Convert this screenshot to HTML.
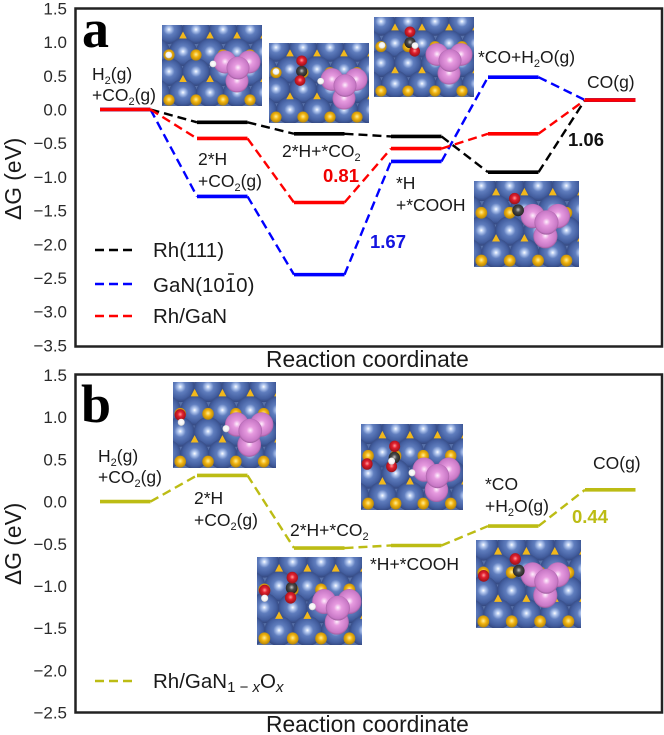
<!DOCTYPE html>
<html lang="en">
<head>
<meta charset="utf-8">
<title>Free energy diagrams</title>
<style>
html,body{margin:0;padding:0;background:#fff;width:664px;height:735px;overflow:hidden}
svg{display:block}
text{font-family:"Liberation Sans",sans-serif;fill:#1a1a1a}
.lb{font-size:17.5px}
.tk{font-size:17px;text-anchor:end;fill:#2a2a2a}
.ax{font-size:22.8px}
.lg{font-size:20.5px}
.val{font-size:18.5px;font-weight:bold}
.pl{font-family:"Liberation Serif",serif;font-weight:bold;font-size:54px;fill:#000}
</style>
</head>
<body>
<svg id="chart" xmlns="http://www.w3.org/2000/svg" width="664" height="735" viewBox="0 0 664 735">
<defs>
<radialGradient id="gBlue" cx="50%" cy="48%" r="52%"><stop offset="0" stop-color="#ffffff"/><stop offset=".13" stop-color="#b9cdf2"/><stop offset=".38" stop-color="#5f7dbe"/><stop offset=".78" stop-color="#435e9f"/><stop offset="1" stop-color="#33477e"/></radialGradient>
<radialGradient id="gGold" cx="50%" cy="45%" r="55%"><stop offset="0" stop-color="#fff09a"/><stop offset=".45" stop-color="#f2b412"/><stop offset="1" stop-color="#b08208"/></radialGradient>
<radialGradient id="gPink" cx="50%" cy="48%" r="52%"><stop offset="0" stop-color="#fff2fd"/><stop offset=".3" stop-color="#e79be0"/><stop offset=".85" stop-color="#c878c6"/><stop offset="1" stop-color="#9c5c9c"/></radialGradient>
<radialGradient id="gRed" cx="50%" cy="45%" r="55%"><stop offset="0" stop-color="#ffa0a0"/><stop offset=".4" stop-color="#e2202e"/><stop offset="1" stop-color="#981018"/></radialGradient>
<radialGradient id="gC" cx="50%" cy="45%" r="55%"><stop offset="0" stop-color="#c8c8c8"/><stop offset=".4" stop-color="#4a4a4a"/><stop offset="1" stop-color="#222"/></radialGradient>
<radialGradient id="gH" cx="50%" cy="45%" r="55%"><stop offset="0" stop-color="#fff"/><stop offset=".7" stop-color="#f2f2f2"/><stop offset="1" stop-color="#bbb"/></radialGradient>
<filter id="soft" x="-5%" y="-5%" width="110%" height="110%"><feGaussianBlur stdDeviation="0.35"/></filter>
</defs>

<g id="insets"></g>
<g id="marks"></g>

<rect x="75.5" y="8.5" width="586.5" height="338" fill="none" stroke="#222" stroke-width="2.5"/>
<rect x="75.5" y="374.5" width="586.5" height="338" fill="none" stroke="#222" stroke-width="2.5"/>
<g id="ticks"></g>

<text class="pl" x="82" y="47">a</text>
<text class="pl" x="81" y="422">b</text>

<text class="ax" transform="translate(21,220) rotate(-90)">ΔG (eV)</text>
<text class="ax" transform="translate(21,585) rotate(-90)">ΔG (eV)</text>
<text class="ax" x="266" y="367">Reaction coordinate</text>
<text class="ax" x="266" y="732">Reaction coordinate</text>

<g>
<text class="lb" x="92" y="80">H<tspan font-size="11" dy="4">2</tspan><tspan dy="-4">(g)</tspan></text>
<text class="lb" x="92" y="101">+CO<tspan font-size="11" dy="4">2</tspan><tspan dy="-4">(g)</tspan></text>
<text class="lb" x="198" y="165">2*H</text>
<text class="lb" x="198" y="187">+CO<tspan font-size="11" dy="4">2</tspan><tspan dy="-4">(g)</tspan></text>
<text class="lb" x="282" y="157">2*H+*CO<tspan font-size="11" dy="4">2</tspan></text>
<text class="lb" x="396" y="189">*H</text>
<text class="lb" x="396" y="211">+*COOH</text>
<text class="lb" x="478" y="63">*CO+H<tspan font-size="11" dy="4">2</tspan><tspan dy="-4">O(g)</tspan></text>
<text class="lb" x="587" y="88">CO(g)</text>
</g>
<text class="val" x="323" y="182" style="fill:#f00000">0.81</text>
<text class="val" x="370" y="248" style="fill:#1414e0">1.67</text>
<text class="val" x="568" y="146" style="fill:#111">1.06</text>

<g>
<text class="lb" x="98" y="462">H<tspan font-size="11" dy="4">2</tspan><tspan dy="-4">(g)</tspan></text>
<text class="lb" x="98" y="483">+CO<tspan font-size="11" dy="4">2</tspan><tspan dy="-4">(g)</tspan></text>
<text class="lb" x="194" y="504">2*H</text>
<text class="lb" x="194" y="526">+CO<tspan font-size="11" dy="4">2</tspan><tspan dy="-4">(g)</tspan></text>
<text class="lb" x="290" y="536">2*H+*CO<tspan font-size="11" dy="4">2</tspan></text>
<text class="lb" x="370" y="570">*H+*COOH</text>
<text class="lb" x="485" y="490">*CO</text>
<text class="lb" x="485" y="512">+H<tspan font-size="11" dy="4">2</tspan><tspan dy="-4">O(g)</tspan></text>
<text class="lb" x="593" y="469">CO(g)</text>
</g>
<text class="val" x="572" y="523" style="fill:#bcbc14">0.44</text>

<g>
<line x1="95" y1="250" x2="137" y2="250" stroke="#000" stroke-width="2.4" stroke-dasharray="9 5"/>
<text class="lg" x="153" y="257">Rh(111)</text>
<line x1="95" y1="284" x2="137" y2="284" stroke="#0000ff" stroke-width="2.4" stroke-dasharray="9 5"/>
<text class="lg" x="153" y="292">GaN(1010)</text>
<line x1="228" y1="274" x2="234" y2="274" stroke="#1a1a1a" stroke-width="1.4"/>
<line x1="95" y1="316" x2="137" y2="316" stroke="#ff0000" stroke-width="2.4" stroke-dasharray="9 5"/>
<text class="lg" x="153" y="323">Rh/GaN</text>
</g>
<g>
<line x1="95" y1="681" x2="137" y2="681" stroke="#bcbc14" stroke-width="2.4" stroke-dasharray="9 5"/>
<text class="lg" x="153" y="688">Rh/GaN<tspan font-size="15" dy="4">1 − <tspan font-style="italic">x</tspan></tspan><tspan dy="-4">O</tspan><tspan font-size="15" dy="4" font-style="italic">x</tspan></text>
</g>
</svg>

<script>
// ---- chart data ----
var ticksA = ['1.5','1.0','0.5','0.0','−0.5','−1.0','−1.5','−2.0','−2.5','−3.0','−3.5'];
var tickValuesA = [1.5,1,0.5,0,-0.5,-1,-1.5,-2,-2.5,-3,-3.5];
var ticksB = ['1.5','1.0','0.5','0.0','−0.5','−1.0','−1.5','−2.0','−2.5'];
var tickValuesB = [1.5,1,0.5,0,-0.5,-1,-1.5,-2,-2.5];
var reactionSteps = [0,1,2,3,4,5];
var rh111 = [0,-0.19,-0.36,-0.40,-0.93,0.14];
var gan = [0,-1.29,-2.45,-0.77,0.48,0.14];
var rhGan = [0,-0.43,-1.38,-0.58,-0.36,0.14];
var rhGanOx = [0,0.31,-0.55,-0.52,-0.29,0.14];

var NS = 'http://www.w3.org/2000/svg';
function make(tag, attrs, parent){
  var n = document.createElementNS(NS, tag);
  for (var k in attrs) n.setAttribute(k, attrs[k]);
  parent.appendChild(n);
  return n;
}
// axis functions
function xStart(step){ return 100 + step * 97; }
function xEnd(step){ return xStart(step) + 50.5; }
function yA(v){ return 109.5 - v * 67.4; }
function yB(v){ return 501.6 - v * 84.4; }

var marks = document.getElementById('marks');
function drawSeries(values, yFn, color, name){
  var g = make('g', {}, marks);
  
  
  for (var i = 0; i < values.length; i++){
    if (i > 0){
      var c = make('line', {x1:xEnd(reactionSteps[i-1]), y1:yFn(values[i-1]), x2:xStart(reactionSteps[i]), y2:yFn(values[i]), stroke:color, 'stroke-width':2.4, 'stroke-dasharray':'9 5'}, g);
      
      
    }
  }
  for (var j = 0; j < values.length; j++){
    var l = make('line', {x1:xStart(reactionSteps[j]), y1:yFn(values[j]), x2:xEnd(reactionSteps[j]), y2:yFn(values[j]), stroke:color, 'stroke-width':3.6}, g);
    
    
  }
}
drawSeries(rh111, yA, '#000000', 'series-rh111');
drawSeries(gan, yA, '#0000ff', 'series-gan');
drawSeries(rhGan, yA, '#ff0000', 'series-rh-gan');
drawSeries(rhGanOx, yB, '#bcbc14', 'series-rh-ganox');

var tg = document.getElementById('ticks');
function drawTicks(labels, values, yFn){
  for (var i = 0; i < labels.length; i++){
    var t = make('text', {x:67, y:yFn(values[i]) + 6, 'class':'tk'}, tg);
    
    
    t.textContent = labels[i];
  }
}
drawTicks(ticksA, tickValuesA, yA);
drawTicks(ticksB, tickValuesB, yB);

// ---- atomic structure insets (illustrations, not data) ----
var insetRoot = document.getElementById('insets');
var blueAtoms = [[7,5],[34,5],[61,5],[88,5],[-6,27],[21,27],[48,27],[75,27],[102,27],[7,47],[34,47],[61,47],[88,47],[-6,68],[21,68],[48,68],[75,68],[102,68]];
var goldWedges = [[21,6.5],[48,6.5],[75,6.5],[102,6.5],[21,50],[48,50],[75,50],[102,50]];
var topGold = [[7,30],[34,30],[61,30],[88,30],[7,75],[34,75],[61,75],[88,75]];
var pinkAtoms = [[63,37],[87,37],[75,56],[76,43]];
var insetCount = 0;
function drawInset(x, y, w, h, px, py, extras){
  insetCount++;
  var sx = w / 100, sy = h / 81;
  var clip = make('clipPath', {id:'clip' + insetCount}, insetRoot);
  make('rect', {x:0, y:0, width:100, height:81}, clip);
  var g = make('g', {transform:'translate(' + x + ',' + y + ') scale(' + sx + ',' + sy + ')', 'clip-path':'url(#clip' + insetCount + ')', filter:'url(#soft)'}, insetRoot);
  
  
  make('rect', {x:0, y:0, width:100, height:81, fill:'#566fa8'}, g);
  blueAtoms.forEach(function(a){ make('circle', {cx:a[0], cy:a[1], r:14, fill:'url(#gBlue)'}, g); });
  goldWedges.forEach(function(a){
    make('polygon', {points:(a[0]) + ',' + (a[1]) + ' ' + (a[0] - 3.8) + ',' + (a[1] + 7) + ' ' + (a[0] + 3.8) + ',' + (a[1] + 7), fill:'#f2b81a'}, g);
  });
  topGold.forEach(function(a){ make('circle', {cx:a[0], cy:a[1], r:5.6, fill:'url(#gGold)'}, g); });
  pinkAtoms.forEach(function(a){ make('circle', {cx:a[0] + px, cy:a[1] + py, r:11.5, fill:'url(#gPink)'}, g); });
  extras.forEach(function(e){
    var r = e[0] === 'H' ? 3.4 : (e[0] === 'O' ? 5.4 : 5.6);
    var f = e[0] === 'H' ? 'url(#gH)' : (e[0] === 'O' ? 'url(#gRed)' : 'url(#gC)');
    make('circle', {cx:e[1], cy:e[2], r:r, fill:f}, g);
  });
}
drawInset(162,25,100,81,0,0,[['H',6.7,30],['H',51,39]]);
drawInset(269,43,100,80,0,0,[['H',7,29],['C',32.7,28.7],['O',32.7,18],['O',31,38],['H',51.7,38.7]]);
drawInset(374,17,100,80,0,1,[['H',8,28.7],['O',36,15],['C',36,26],['O',40.7,34.7],['H',41,29]]);
drawInset(474,181,105,86,-7,-4,[['C',42,27.6],['O',38.7,16.6]]);
drawInset(173,382,103,86,-1,3,[['O',7,31],['H',8,38],['H',51.5,44]]);
drawInset(361,424,102,86,-1,6,[['C',32.7,31.7],['O',33,21],['O',30,40],['H',30,35],['O',6,37.7],['H',50,46]]);
drawInset(257,557,105,88,1,4,[['C',33,28.5],['O',33.6,19],['O',32,37.5],['O',7.3,31],['H',7.3,38],['H',52.7,45.7]]);
drawInset(476,540,105,88,-9,-5,[['C',40.7,28.3],['O',37.4,17.5],['O',7.3,33]]);
</script>
</body>
</html>
